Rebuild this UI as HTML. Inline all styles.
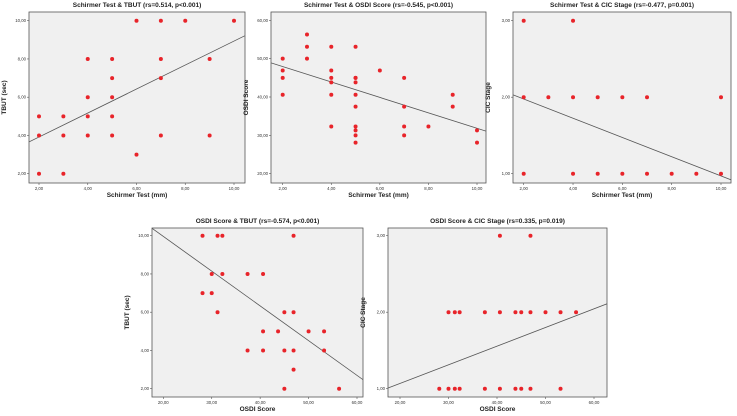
<!DOCTYPE html>
<html><head><meta charset="utf-8"><style>
html,body{margin:0;padding:0;background:#fff;}
svg{display:block;font-family:"Liberation Sans",sans-serif;}
</style></head><body>
<svg id="fig" width="737" height="416" viewBox="0 0 737 416"></svg>
<script>
// ---- Chart 1: Schirmer Test & TBUT
const c1X = [2,2,2,3,3,3,4,4,4,4,5,5,5,5,5,6,6,7,7,7,7,8,9,9,10];
const c1Y = [5,4,2,5,4,2,8,6,5,4,8,7,6,5,4,10,3,10,8,7,4,10,8,4,10];
const c1Fit = [1.59,3.66,10.44,9.21];
const c1XTicks = [2,4,6,8,10];
const c1YTicks = [2,4,6,8,10];
// ---- Chart 2: Schirmer Test & OSDI
const c2X = [2,2,2,2,3,3,3,4,4,4,4,4,4,5,5,5,5,5,5,5,5,5,5,6,7,7,7,7,8,9,9,10,10];
const c2Y = [50,46.9,45,40.6,56.3,53.1,50,53.1,46.9,45,43.8,40.6,32.3,53.1,45,43.8,40.6,37.5,32.3,31.3,30,28.1,45,46.9,45,37.5,32.3,30,32.3,40.6,37.5,31.3,28.1];
const c2Fit = [1.52,48.9,10.37,31.1];
const c2XTicks = [2,4,6,8,10];
const c2YTicks = [20,30,40,50,60];
// ---- Chart 3: Schirmer Test & CIC
const c3X = [2,4,2,3,4,5,6,7,10,2,4,5,6,7,8,9,10];
const c3Y = [3,3,2,2,2,2,2,2,2,1,1,1,1,1,1,1,1];
const c3Fit = [1.57,2.03,10.41,0.92];
const c3XTicks = [2,4,6,8,10];
const c3YTicks = [1,2,3];
// ---- Chart 4: OSDI & TBUT
const c4X = [28.1,31.2,32.2,46.9,30,32.2,37.4,40.6,28.1,30,31.2,45,46.9,40.6,43.7,50,53.2,37.4,40.6,45,46.9,53.2,46.9,45,56.3];
const c4Y = [10,10,10,10,8,8,8,8,7,7,6,6,6,5,5,5,5,4,4,4,4,4,3,2,2];
const c4Fit = [17.6,10.4,61.3,2.46];
const c4XTicks = [20,30,40,50,60];
const c4YTicks = [2,4,6,8,10];
// ---- Chart 5: OSDI & CIC
const c5X = [40.6,46.9,30,31.3,32.3,37.5,40.6,43.8,45,46.9,50,53.1,56.3,28.1,30,31.3,32.3,37.5,40.6,43.8,45,46.9,53.1];
const c5Y = [3,3,2,2,2,2,2,2,2,2,2,2,2,1,1,1,1,1,1,1,1,1,1];
const c5Fit = [17.6,1.01,62.7,2.11];
const c5XTicks = [20,30,40,50,60];
const c5YTicks = [1,2,3];

const NS="http://www.w3.org/2000/svg";
const svg=document.getElementById('fig');
function mk(tag,attrs,parent){const e=document.createElementNS(NS,tag);for(const k in attrs)e.setAttribute(k,attrs[k]);(parent||svg).appendChild(e);return e;}
function fmt(v){return v.toFixed(2).replace('.',',');}

function chart(id,cfg,xs,ys,fit,xt,yt){
  const g=mk('g',{});
  
  
  const sx=v=>cfg.xp0+(v-cfg.xv0)*(cfg.xp1-cfg.xp0)/(cfg.xv1-cfg.xv0);
  const sy=v=>cfg.yp0+(v-cfg.yv0)*(cfg.yp1-cfg.yp0)/(cfg.yv1-cfg.yv0);
  const bg=mk('rect',{x:cfg.L,y:cfg.T,width:cfg.R-cfg.L,height:cfg.B-cfg.T,fill:'#f0f0f0',stroke:'#555','stroke-width':0.8},g);
  
  
  const t=mk('text',{x:(cfg.L+cfg.R)/2,y:cfg.T-5,'text-anchor':'middle','font-size':6.5,'font-weight':'bold',fill:'#222'},g);
  t.textContent=cfg.title;
  
  
  const xl=mk('text',{x:(cfg.L+cfg.R)/2,y:cfg.B+14,'text-anchor':'middle','font-size':6.5,'font-weight':'bold',fill:'#222'},g);
  xl.textContent=cfg.xlab;
  
  
  const yx=cfg.L-23,ym=(cfg.T+cfg.B)/2;
  const yl=mk('text',{x:yx,y:ym,'text-anchor':'middle','font-size':6.5,'font-weight':'bold',fill:'#222',transform:`rotate(-90 ${yx} ${ym})`},g);
  yl.textContent=cfg.ylab;
  
  
  xt.forEach(v=>{
    const x=sx(v);
    mk('line',{x1:x,x2:x,y1:cfg.B,y2:cfg.B+2,stroke:'#555','stroke-width':0.6},g);
    const tx=mk('text',{x:x,y:cfg.B+7,'text-anchor':'middle','font-size':4.3,fill:'#333'},g);
    tx.textContent=fmt(v);
    
    
  });
  yt.forEach(v=>{
    const y=sy(v);
    mk('line',{x1:cfg.L-2,x2:cfg.L,y1:y,y2:y,stroke:'#555','stroke-width':0.6},g);
    const ty=mk('text',{x:cfg.L-3,y:y+1.5,'text-anchor':'end','font-size':4.3,fill:'#333'},g);
    ty.textContent=fmt(v);
    
    
  });
  const cp='clip-'+id;
  const cl=mk('clipPath',{id:cp},g);
  mk('rect',{x:cfg.L,y:cfg.T,width:cfg.R-cfg.L,height:cfg.B-cfg.T},cl);
  const ln=mk('line',{x1:sx(fit[0]),y1:sy(fit[1]),x2:sx(fit[2]),y2:sy(fit[3]),stroke:'#555','stroke-width':0.8,'clip-path':`url(#${cp})`},g);
  
  
  xs.forEach((v,i)=>{
    const c=mk('circle',{cx:sx(v),cy:sy(ys[i]),r:2,fill:'#e8242a'},g);
    
    
  });
}

chart('chart-schirmer-tbut',{L:29,T:12,R:245,B:183,xv0:2,xv1:10,xp0:39,xp1:234,yv0:2,yv1:10,yp0:173.7,yp1:20.7,
  title:'Schirmer Test & TBUT (rs=0.514, p<0.001)',xlab:'Schirmer Test (mm)',ylab:'TBUT (sec)'},c1X,c1Y,c1Fit,c1XTicks,c1YTicks);
chart('chart-schirmer-osdi',{L:271,T:12,R:486,B:183,xv0:2,xv1:10,xp0:282.7,xp1:477,yv0:20,yv1:60,yp0:173.7,yp1:20.3,
  title:'Schirmer Test & OSDI Score (rs=-0.545, p<0.001)',xlab:'Schirmer Test (mm)',ylab:'OSDI Score'},c2X,c2Y,c2Fit,c2XTicks,c2YTicks);
chart('chart-schirmer-cic',{L:513,T:12,R:731,B:183,xv0:2,xv1:10,xp0:523.7,xp1:721,yv0:1,yv1:3,yp0:173.7,yp1:20.7,
  title:'Schirmer Test & CIC Stage (rs=-0.477, p=0.001)',xlab:'Schirmer Test (mm)',ylab:'CIC Stage'},c3X,c3Y,c3Fit,c3XTicks,c3YTicks);
chart('chart-osdi-tbut',{L:152,T:228,R:363,B:397,xv0:20,xv1:60,xp0:163.3,xp1:357,yv0:2,yv1:10,yp0:388.7,yp1:235.7,
  title:'OSDI Score & TBUT (rs=-0.574, p<0.001)',xlab:'OSDI Score',ylab:'TBUT (sec)'},c4X,c4Y,c4Fit,c4XTicks,c4YTicks);
chart('chart-osdi-cic',{L:388,T:228,R:607,B:397,xv0:20,xv1:60,xp0:400,xp1:594,yv0:1,yv1:3,yp0:388.7,yp1:235.7,
  title:'OSDI Score & CIC Stage (rs=0.335, p=0.019)',xlab:'OSDI Score',ylab:'CIC Stage'},c5X,c5Y,c5Fit,c5XTicks,c5YTicks);
</script>
</body></html>
